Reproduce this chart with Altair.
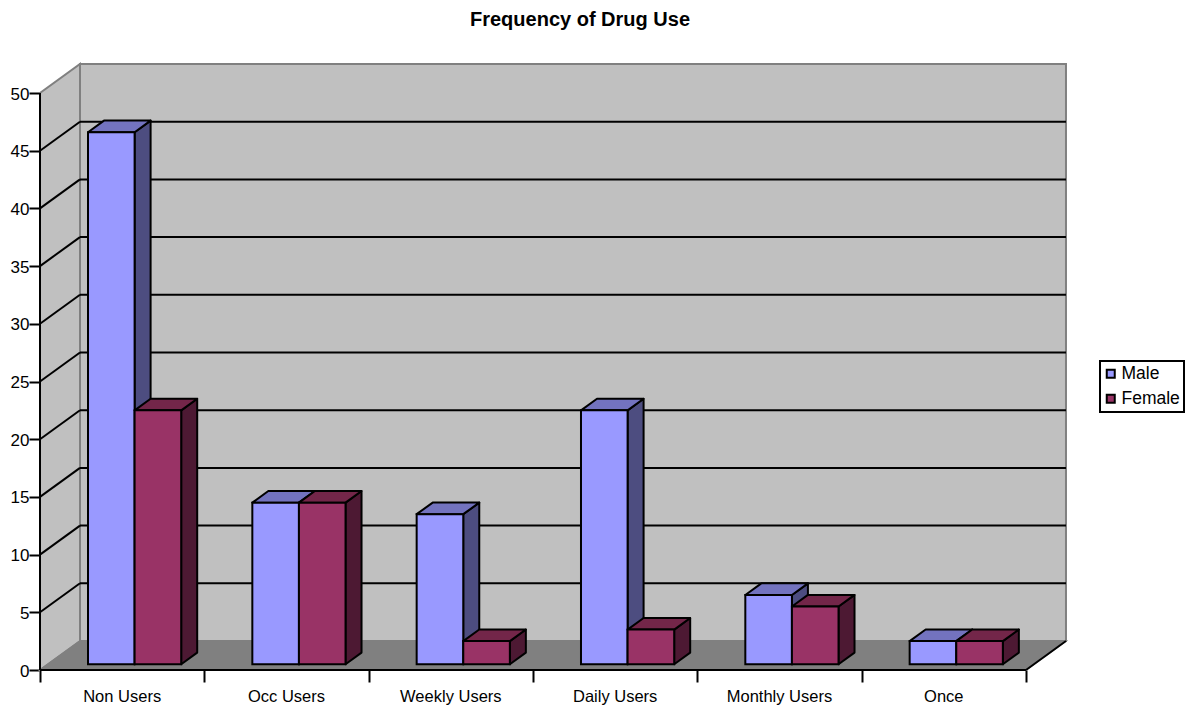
import altair as alt
import pandas as pd

# Survey counts per usage category
categories = ["Non Users", "Occ Users", "Weekly Users", "Daily Users", "Monthly Users", "Once"]
male = [46.1, 14, 13, 22, 6, 2]
female = [22, 14, 2, 3, 5, 2]
y_ticks = [0, 5, 10, 15, 20, 25, 30, 35, 40, 45, 50]
series_names = ["Male", "Female"]

# Scale geometry: x is measured in category slots, y in counts
PX_PER_CAT = 164.33
PX_PER_UNIT = 11.54
WIDTH = 1026
HEIGHT = 607
N = len(categories)
DEPTH_X = 40 / PX_PER_CAT
DEPTH_Y = 29 / PX_PER_UNIT
BAR_START = 0.2
BAR_DEPTH = 0.4
BAR_OFFSET = 40 / PX_PER_CAT
BAR_WIDTH = 46.6 / PX_PER_CAT

FRONT = {"Male": "#9999ff", "Female": "#993366"}
SIDE = {"Male": "#4d4d80", "Female": "#4d1933"}
TOP = {"Male": "#7373bf", "Female": "#732649"}
WALL = "#c0c0c0"
FLOOR = "#808080"
EDGE = "#808080"
FONT = "Liberation Sans"

x_scale = alt.Scale(domain=[0, WIDTH / PX_PER_CAT], nice=False, zero=False)
y_scale = alt.Scale(domain=[0, HEIGHT / PX_PER_UNIT], nice=False, zero=False)

# Every layer shares the same axis definitions so that they merge into one pair
x_axis = alt.Axis(values=list(range(N + 1)), labels=False, tickSize=12, tickWidth=2, tickColor="black",
                  domain=False, grid=False)
y_axis = alt.Axis(values=y_ticks, tickSize=11, tickWidth=2, tickColor="black", domain=False, grid=False,
                  labelFont=FONT, labelFontSize=17, labelColor="black", labelPadding=0, labelOffset=1)


def X(field="x"):
    return alt.X(f"{field}:Q", scale=x_scale, axis=x_axis, title=None)


def Y(field="y"):
    return alt.Y(f"{field}:Q", scale=y_scale, axis=y_axis, title=None, stack=None)


# Build the bar faces from the data arrays
rows_front, rows_side, rows_top = [], [], []
for s_idx, (name, values) in enumerate(zip(series_names, [male, female])):
    for i, v in enumerate(values):
        left = i + BAR_OFFSET + BAR_START * DEPTH_X + s_idx * BAR_WIDTH
        right = left + BAR_WIDTH
        base = BAR_START * DEPTH_Y
        top = base + v
        dx, dy = BAR_DEPTH * DEPTH_X, BAR_DEPTH * DEPTH_Y
        rows_front.append(dict(series=name, x=left, x2=right, y=base, y2=top))
        rows_side += [
            dict(series=name, key=i, x=right, y=base, y2=top),
            dict(series=name, key=i, x=right + dx, y=base + dy, y2=top + dy),
        ]
        rows_top += [
            dict(series=name, key=i, y=top, x=left, x2=right),
            dict(series=name, key=i, y=top + dy, x=left + dx, x2=right + dx),
        ]
front_df = pd.DataFrame(rows_front)
side_df = pd.DataFrame(rows_side)
top_df = pd.DataFrame(rows_top)

# Chart box: back wall, left wall and floor
back_wall = alt.Chart(pd.DataFrame([dict(x=DEPTH_X, x2=N + DEPTH_X, y=DEPTH_Y, y2=y_ticks[-1] + DEPTH_Y)])).mark_rect(
    fill=WALL, stroke=EDGE, strokeWidth=2
).encode(x=X(), x2="x2:Q", y=Y(), y2="y2:Q")

left_wall = alt.Chart(pd.DataFrame([
    dict(x=0, y=0, y2=y_ticks[-1]),
    dict(x=DEPTH_X, y=DEPTH_Y, y2=y_ticks[-1] + DEPTH_Y),
])).mark_area(orient="vertical", fill=WALL, stroke=EDGE, strokeWidth=2).encode(x=X(), y=Y(), y2="y2:Q")

floor = alt.Chart(pd.DataFrame([
    dict(y=0, x=0, x2=N),
    dict(y=DEPTH_Y, x=DEPTH_X, x2=N + DEPTH_X),
])).mark_area(orient="horizontal", fill=FLOOR, stroke=EDGE, strokeWidth=1.5).encode(x=X(), x2="x2:Q", y=Y())

# Horizontal gridlines continue from the left wall onto the back wall
grid_rows = []
for t in y_ticks[1:-1]:
    grid_rows.append(dict(x=0, x2=DEPTH_X, y=t, y2=t + DEPTH_Y))
    grid_rows.append(dict(x=DEPTH_X, x2=N + DEPTH_X, y=t + DEPTH_Y, y2=t + DEPTH_Y))
grid = alt.Chart(pd.DataFrame(grid_rows)).mark_rule(color="black", strokeWidth=2).encode(
    x=X(), x2="x2:Q", y=Y(), y2="y2:Q"
)

# Axis lines, including the floor's right edge
axis_lines = alt.Chart(pd.DataFrame([
    dict(x=0, x2=0, y=0, y2=y_ticks[-1]),
    dict(x=0, x2=N, y=0, y2=0),
    dict(x=N, x2=N + DEPTH_X, y=0, y2=DEPTH_Y),
])).mark_rule(color="black", strokeWidth=2).encode(x=X(), x2="x2:Q", y=Y(), y2="y2:Q")

cat_labels = alt.Chart(pd.DataFrame(dict(x=[i + 0.5 for i in range(N)], y=[0] * N, label=categories))).mark_text(
    font=FONT, fontSize=16.5, color="black", dy=27, align="center", baseline="middle"
).encode(x=X(), y=Y(), text="label:N")

color_scale = alt.Scale(domain=series_names, range=[FRONT[s] for s in series_names])


def bar_layers(name):
    side = alt.Chart(side_df[side_df.series == name]).mark_area(
        orient="vertical", fill=SIDE[name], stroke="black", strokeWidth=2, strokeJoin="round"
    ).encode(x=X(), y=Y(), y2="y2:Q", detail="key:N")
    top = alt.Chart(top_df[top_df.series == name]).mark_area(
        orient="horizontal", fill=TOP[name], stroke="black", strokeWidth=2, strokeJoin="round"
    ).encode(x=X(), x2="x2:Q", y=Y(), detail="key:N")
    front = alt.Chart(front_df[front_df.series == name]).mark_bar(stroke="black", strokeWidth=2).encode(
        x=X(), x2="x2:Q", y=Y(), y2="y2:Q",
        color=alt.Color(
            "series:N", scale=color_scale, sort=series_names,
            legend=alt.Legend(
                title=None, orient="none", legendX=1060, legendY=298, symbolType="square", symbolSize=64,
                symbolStrokeColor="black", symbolStrokeWidth=2, symbolOffset=-2, labelFont=FONT, labelFontSize=17.5,
                labelColor="black", strokeColor="black", padding=4, rowPadding=6, labelOffset=2,
            ),
        ),
    )
    return [side, top, front]


layers = [back_wall, left_wall, floor, grid, axis_lines, cat_labels]
for name in series_names:
    layers += bar_layers(name)

chart = alt.layer(*layers).properties(
    width=WIDTH,
    height=HEIGHT,
    title=alt.TitleParams(
        "Frequency of Drug Use", font=FONT, fontSize=20, fontWeight="bold", color="black",
        anchor="middle", dx=27, offset=30,
    ),
    autosize=alt.AutoSizeParams(type="none"),
    padding={"left": 40, "top": 63, "right": 120, "bottom": 37},
).configure_view(stroke=None).configure_legend(strokeWidth=2)

chart.save("out.html", embed_options={"renderer": "svg", "actions": False})
